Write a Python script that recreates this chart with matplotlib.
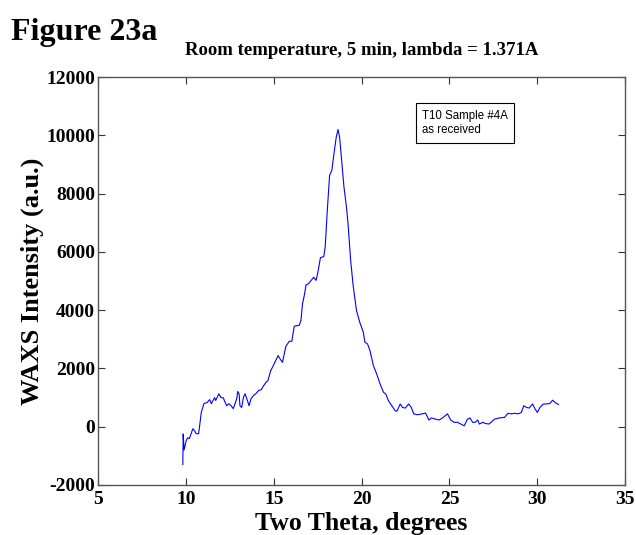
import matplotlib
matplotlib.use("Agg")
import matplotlib.pyplot as plt

# two theta (degrees) and WAXS intensity
two_theta = [9.83, 9.85, 9.9, 10.02, 10.11, 10.2, 10.4, 10.5, 10.59, 10.73,
             10.88, 11.03, 11.22, 11.36, 11.45, 11.64, 11.7, 11.88, 12.0, 12.13,
             12.32, 12.45, 12.57, 12.7, 12.8, 12.9, 12.95, 13.03, 13.08, 13.18,
             13.28, 13.37, 13.47, 13.6, 13.71, 13.85, 13.98, 14.14, 14.29, 14.43,
             14.56, 14.67, 14.83, 15.02, 15.25, 15.36, 15.5, 15.69, 15.88, 16.03,
             16.17, 16.45, 16.55, 16.64, 16.74, 16.84, 16.97, 17.13, 17.28, 17.41,
             17.5, 17.66, 17.85, 17.93, 18.05, 18.18, 18.31, 18.43, 18.56, 18.66,
             18.75, 18.85, 19.0, 19.14, 19.23, 19.38, 19.52, 19.71, 19.9, 20.1,
             20.19, 20.34, 20.48, 20.67, 20.86, 21.05, 21.25, 21.38, 21.53, 21.72,
             21.91, 22.01, 22.2, 22.33, 22.49, 22.68, 22.83, 22.97, 23.16, 23.45,
             23.64, 23.83, 23.98, 24.21, 24.41, 24.6, 24.89, 25.07, 25.27, 25.46,
             25.65, 25.84, 26.03, 26.17, 26.32, 26.47, 26.61, 26.7, 26.9, 27.05,
             27.24, 27.37, 27.56, 27.85, 28.14, 28.33, 28.52, 28.71, 28.91, 29.09,
             29.23, 29.39, 29.54, 29.73, 29.87, 30.0, 30.15, 30.34, 30.53, 30.72,
             30.87, 31.01, 31.2]
intensity = [-1300, -250, -800, -480, -380, -410, -70, -140, -240, -240,
             490, 790, 835, 930, 790, 1000, 900, 1130, 1000, 990,
             720, 790, 720, 620, 790, 960, 1210, 1130, 720, 660,
             1010, 1130, 960, 720, 960, 1070, 1130, 1240, 1270, 1410,
             1520, 1580, 1920, 2150, 2440, 2330, 2210, 2750, 2930, 2930,
             3450, 3480, 3640, 4220, 4500, 4870, 4900, 5020, 5130, 5020,
             5250, 5800, 5840, 6160, 7420, 8620, 8800, 9370, 9940, 10200,
             9940, 9250, 8220, 7540, 6960, 5700, 4850, 3990, 3580, 3240,
             2900, 2840, 2610, 2100, 1810, 1470, 1180, 1120, 890, 720,
             550, 530, 780, 660, 640, 780, 660, 440, 410, 440,
             470, 230, 300, 260, 230, 300, 440, 230, 150, 150,
             90, 30, 260, 300, 150, 150, 230, 90, 150, 110,
             90, 150, 260, 300, 320, 460, 440, 460, 440, 490,
             720, 660, 640, 780, 610, 490, 660, 780, 780, 800,
             910, 830, 760]

x_ticks = [5, 10, 15, 20, 25, 30, 35]
y_ticks = [-2000, 0, 2000, 4000, 6000, 8000, 10000, 12000]

plt.rcParams["axes.unicode_minus"] = False
serif = ["Liberation Serif", "DejaVu Serif"]

fig = plt.figure(figsize=(6.36, 5.35), dpi=100)
ax = fig.add_axes([0.154, 0.0935, 0.829, 0.7625])
ax.plot(two_theta, intensity, color="#0000ff", linewidth=0.8)

ax.set_xlim(5, 35)
ax.set_ylim(-2000, 12000)
ax.set_xticks(x_ticks)
ax.set_yticks(y_ticks)
ax.tick_params(direction="in", top=True, right=True, length=5, width=0.8,
               colors="#333333", labelcolor="black", pad=2)
ax.tick_params(axis="x", pad=4)
for lab in ax.get_xticklabels() + ax.get_yticklabels():
    lab.set_family(serif)
    lab.set_fontweight("bold")
    lab.set_fontsize(14)
for s in ax.spines.values():
    s.set_color("#555555")
    s.set_linewidth(1.0)

ax.set_xlabel("Two Theta, degrees", family=serif, fontweight="bold", fontsize=18.5, labelpad=3)
ax.set_ylabel("WAXS Intensity (a.u.)", family=serif, fontweight="bold", fontsize=19, labelpad=2)
ax.set_title("Room temperature, 5 min, lambda = 1.371A", family=serif,
             fontweight="bold", fontsize=13.5, pad=16)

fig.text(0.018, 0.925, "Figure 23a", family=serif, fontweight="bold", fontsize=23)

ax.text(0.615, 0.92, "T10 Sample #4A\nas received", transform=ax.transAxes,
        family=["Liberation Sans", "DejaVu Sans"], fontsize=8.3, va="top", ha="left",
        linespacing=1.3,
        bbox=dict(boxstyle="square,pad=0.55", facecolor="white", edgecolor="black", linewidth=0.8))

fig.savefig("out.png", dpi=100)
